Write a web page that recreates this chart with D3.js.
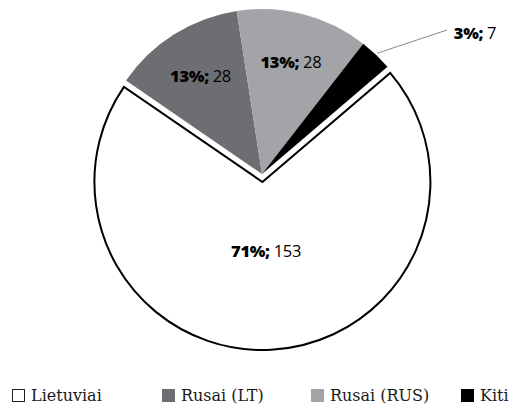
<!DOCTYPE html>
<html>
<head>
<meta charset="utf-8">
<script src="https://cdn.jsdelivr.net/npm/d3@7"></script>
<style>
  body { margin: 0; background: #fff; }
  svg { display: block; }
  .lbl { font-family: "Open Sans", sans-serif; font-size: 16.5px; fill: #000; letter-spacing: -0.3px; }
  .legend text { font-family: "DejaVu Serif", serif; font-size: 16px; fill: #1a1a1a; }
</style>
</head>
<body>
<div id="chart"></div>
<script>
var width = 514,
    height = 406;

// data
var categories = ["Lietuviai", "Rusai (LT)", "Rusai (RUS)", "Kiti"];
var values = [153, 28, 28, 7];
var percents = ["71%;", "13%;", "13%;", "3%;"];
var colors = ["#ffffff", "#6d6e71", "#a3a4a7", "#000000"];

var svg = d3.select("#chart").append("svg")
    .attr("width", width)
    .attr("height", height);

var cx = 262, cy = 174, r = 165;
var explode = 8;

var pie = d3.pie()
    .sort(null)
    .value(function(d) { return d; })
    .startAngle(49.5 * Math.PI / 180)
    .endAngle(49.5 * Math.PI / 180 + 2 * Math.PI);

var arcs = pie(values);

var arc = d3.arc().innerRadius(0).outerRadius(r);
var bigArc = d3.arc().innerRadius(0).outerRadius(r + 3);

var g = svg.append("g").attr("transform", "translate(" + cx + "," + cy + ")");

g.selectAll("path")
    .data(arcs)
    .enter().append("path")
    .attr("d", function(d, i) { return i == 0 ? bigArc(d) : arc(d); })
    .attr("transform", function(d, i) {
        if (i != 0) return null;
        var a = (d.startAngle + d.endAngle) / 2;
        return "translate(" + (Math.sin(a) * explode) + "," + (-Math.cos(a) * explode) + ")";
    })
    .attr("fill", function(d, i) { return colors[i]; })
    .attr("stroke", function(d, i) { return i == 0 ? "#000" : "none"; })
    .attr("stroke-width", 2)
    .attr("stroke-linejoin", "miter");

// labels
function labelPos(d, i) {
    var a = (d.startAngle + d.endAngle) / 2;
    var k = i == 0 ? 0.42 : 0.7;
    var off = i == 0 ? explode : 0;
    return [Math.sin(a) * (r * k + off), -Math.cos(a) * (r * k + off)];
}

arcs.forEach(function(d, i) {
    var p;
    if (i == 3) {
        // outside label with leader
        var a = (d.startAngle + d.endAngle) / 2;
        var x0 = Math.sin(a) * (r + 2), y0 = -Math.cos(a) * (r + 2);
        p = [213, -141];
        g.append("line")
            .attr("x1", x0).attr("y1", y0)
            .attr("x2", p[0] - 28).attr("y2", p[1] - 3)
            .attr("stroke", "#888").attr("stroke-width", 1);
    } else {
        p = labelPos(d, i);
    }
    var t = g.append("text")
        .attr("class", "lbl")
        .attr("x", p[0]).attr("y", p[1])
        .attr("text-anchor", "middle")
        .attr("dy", "0.35em");
    t.append("tspan").attr("font-weight", 800).text(percents[i]);
    t.append("tspan").text(" " + values[i]);
});

// legend
var legX = [12, 162, 311, 461];
var legend = svg.append("g").attr("class", "legend");
categories.forEach(function(c, i) {
    var lg = legend.append("g").attr("transform", "translate(" + legX[i] + ",389)");
    lg.append("rect")
        .attr("x", i == 0 ? 0.5 : 0).attr("y", i == 0 ? 0.5 : 0)
        .attr("width", i == 0 ? 12 : 13).attr("height", i == 0 ? 12 : 13)
        .attr("fill", colors[i])
        .attr("stroke", i == 0 ? "#222" : "none");
    lg.append("text")
        .attr("x", 19).attr("y", 12)
        .text(c);
});
</script>
</body>
</html>
